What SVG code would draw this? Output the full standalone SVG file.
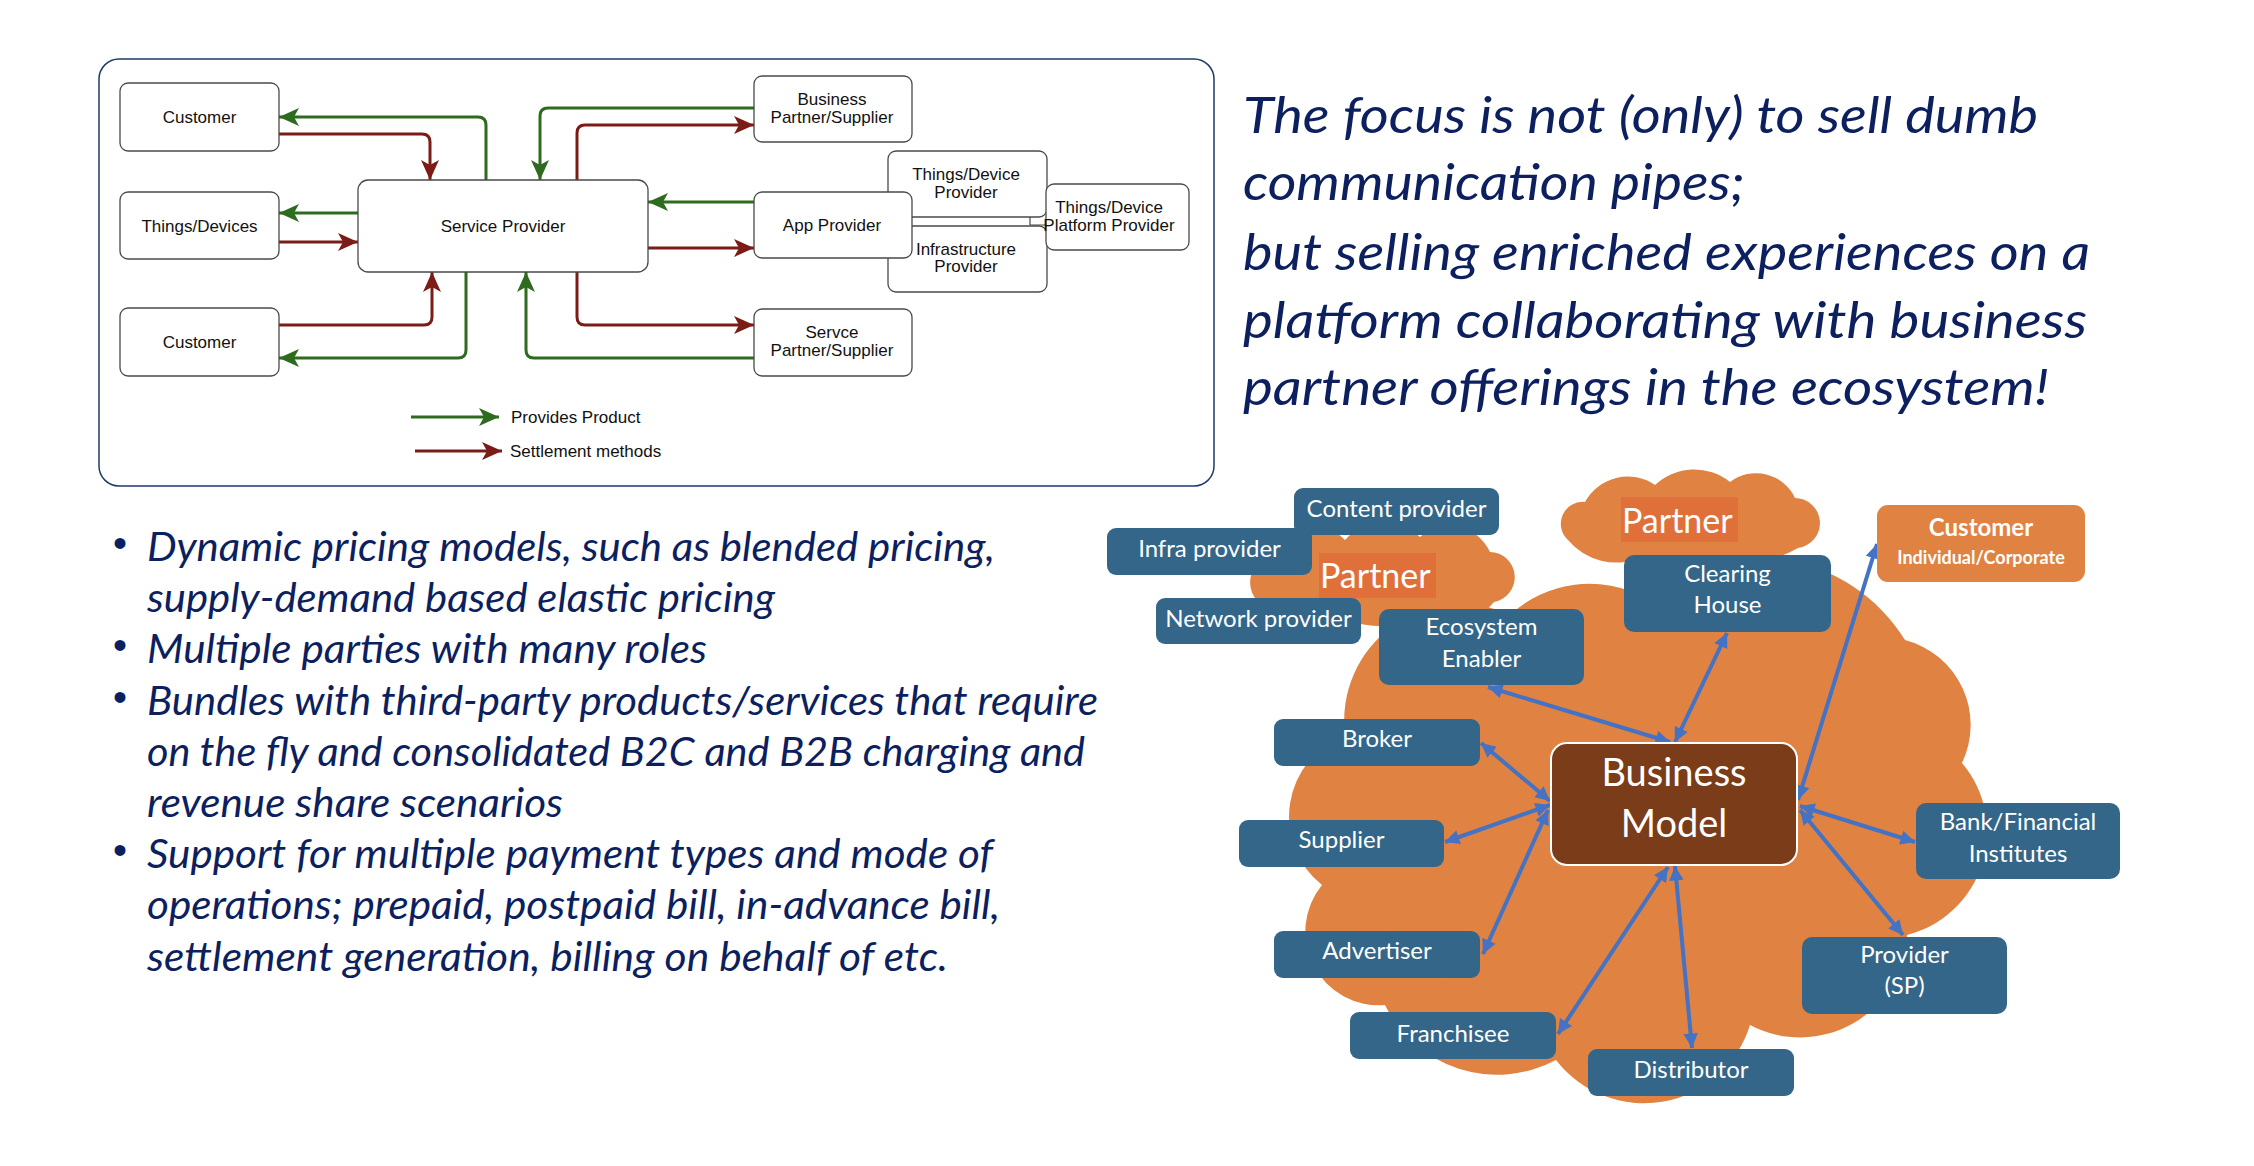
<svg xmlns="http://www.w3.org/2000/svg" width="2254" height="1166" viewBox="0 0 2254 1166">
  <style>
    .lbox { fill: #ffffff; stroke: #4a4a4a; stroke-width: 1.3; }
    .ltxt { font-family: "Liberation Sans", Arial, sans-serif; font-size: 17px; fill: #111111; text-anchor: middle; }
    .lleg { font-family: "Liberation Sans", Arial, sans-serif; font-size: 17px; fill: #111111; }
    .prod { fill: none; stroke: #2E6B1F; stroke-width: 3; marker-end: url(#headG); }
    .settle { fill: none; stroke: #7B1D16; stroke-width: 3; marker-end: url(#headR); }
    .navy { font-family: Lato, "Open Sans", sans-serif; font-style: italic; fill: #0C1F5E; }
    .big { font-size: 50px; }
    .bul { font-size: 40px; }
    .dot { font-family: "Liberation Sans", Arial, sans-serif; font-size: 40px; fill: #0C1F5E; text-anchor: middle; }
    .cloud { fill: #E08241; }
    .tag { fill: #DF7039; }
    .tagtxt { font-family: Lato, "Open Sans", sans-serif; font-size: 34px; fill: #ffffff; }
    .role { fill: #336689; }
    .rtxt { font-family: Lato, "Open Sans", sans-serif; font-size: 24px; fill: #ffffff; text-anchor: middle; }
    .link { fill: none; stroke: #4472C4; stroke-width: 4; marker-start: url(#headB); marker-end: url(#headB); }
  </style>
  <defs>
    <marker id="headG" viewBox="0 0 20 18" refX="20" refY="9" markerWidth="20" markerHeight="18" markerUnits="userSpaceOnUse" orient="auto">
      <path d="M0,0 L20,9 L0,18 L5,9 z" fill="#2E6B1F"/>
    </marker>
    <marker id="headR" viewBox="0 0 20 18" refX="20" refY="9" markerWidth="20" markerHeight="18" markerUnits="userSpaceOnUse" orient="auto">
      <path d="M0,0 L20,9 L0,18 L5,9 z" fill="#7B1D16"/>
    </marker>
    <marker id="headB" viewBox="0 0 10 10" refX="10" refY="5" markerWidth="4" markerHeight="3.6" markerUnits="strokeWidth" orient="auto-start-reverse">
      <path d="M0,0 L10,5 L0,10 z" fill="#4472C4"/>
    </marker>
  </defs>

  <rect width="2254" height="1166" fill="#ffffff"/>

  <!-- ===== Value-flow sketch (top left) ===== -->
  <rect id="frame" x="99" y="59" width="1115" height="427" rx="20" fill="#ffffff" stroke="#1F3A6B" stroke-width="1.5"/>

  <g id="flow-connectors">
    <!-- products -->
    <path class="prod" d="M486,180 V125 Q486,117 478,117 H279"/>
    <path class="prod" d="M358,213 H279"/>
    <path class="prod" d="M466,272 V350 Q466,358 458,358 H279"/>
    <path class="prod" d="M754,108 H548 Q540,108 540,116 V180"/>
    <path class="prod" d="M754,202 H648"/>
    <path class="prod" d="M754,358 H534 Q526,358 526,350 V272"/>
    <!-- settlements -->
    <path class="settle" d="M279,134 H422 Q430,134 430,142 V180"/>
    <path class="settle" d="M279,242 H358"/>
    <path class="settle" d="M279,325 H424 Q432,325 432,317 V272"/>
    <path class="settle" d="M577,180 V133 Q577,125 585,125 H754"/>
    <path class="settle" d="M648,248 H754"/>
    <path class="settle" d="M577,272 V317 Q577,325 585,325 H754"/>
  </g>

  <g id="customer-top">
    <rect class="lbox" x="120" y="83" width="159" height="68" rx="8"/>
    <text class="ltxt" x="199.5" y="123">Customer</text>
  </g>
  <g id="things-devices">
    <rect class="lbox" x="120" y="192" width="159" height="67" rx="8"/>
    <text class="ltxt" x="199.5" y="232">Things/Devices</text>
  </g>
  <g id="customer-bottom">
    <rect class="lbox" x="120" y="308" width="159" height="68" rx="8"/>
    <text class="ltxt" x="199.5" y="348">Customer</text>
  </g>
  <g id="service-provider">
    <rect class="lbox" x="358" y="180" width="290" height="92" rx="10"/>
    <text class="ltxt" x="503" y="232">Service Provider</text>
  </g>
  <g id="business-partner">
    <rect class="lbox" x="754" y="76" width="158" height="66" rx="8"/>
    <text class="ltxt" x="832" y="105">Business</text>
    <text class="ltxt" x="832" y="123">Partner/Supplier</text>
  </g>
  <g id="things-device-provider">
    <rect class="lbox" x="888" y="151" width="159" height="66" rx="8"/>
    <text class="ltxt" x="966" y="180">Things/Device</text>
    <text class="ltxt" x="966" y="198">Provider</text>
  </g>
  <g id="infrastructure-provider">
    <rect class="lbox" x="888" y="226" width="159" height="66" rx="8"/>
    <text class="ltxt" x="966" y="255">Infrastructure</text>
    <text class="ltxt" x="966" y="272">Provider</text>
  </g>
  <g id="platform-provider">
    <rect class="lbox" x="1046" y="184" width="143" height="66" rx="8"/>
    <path d="M1030,217 V225 H1046" fill="none" stroke="#4a4a4a" stroke-width="1.2"/>
    <text class="ltxt" x="1109" y="213">Things/Device</text>
    <text class="ltxt" x="1109" y="231">Platform Provider</text>
  </g>
  <g id="app-provider">
    <rect class="lbox" x="754" y="192" width="158" height="66" rx="8"/>
    <text class="ltxt" x="832" y="231">App Provider</text>
  </g>
  <g id="service-partner">
    <rect class="lbox" x="754" y="309" width="158" height="67" rx="8"/>
    <text class="ltxt" x="832" y="338">Servce</text>
    <text class="ltxt" x="832" y="356">Partner/Supplier</text>
  </g>

  <g id="legend">
    <path class="prod" d="M411,417 H499"/>
    <text class="lleg" x="511" y="423">Provides Product</text>
    <path class="settle" d="M415,451 H502"/>
    <text class="lleg" x="510" y="457">Settlement methods</text>
  </g>

  <!-- ===== Statement (top right) ===== -->
  <g id="statement" class="navy big">
    <text x="1243" y="133" textLength="795" lengthAdjust="spacingAndGlyphs">The focus is not (only) to sell dumb</text>
    <text x="1243" y="200" textLength="502" lengthAdjust="spacingAndGlyphs">communication pipes;</text>
    <text x="1243" y="270" textLength="847" lengthAdjust="spacingAndGlyphs">but selling enriched experiences on a</text>
    <text x="1243" y="338" textLength="844" lengthAdjust="spacingAndGlyphs">platform collaborating with business</text>
    <text x="1243" y="405" textLength="806" lengthAdjust="spacingAndGlyphs">partner offerings in the ecosystem!</text>
  </g>

  <!-- ===== Bullet list (bottom left) ===== -->
  <g id="bullets">
    <text class="dot" x="120" y="557">•</text>
    <text class="dot" x="120" y="659">•</text>
    <text class="dot" x="120" y="711">•</text>
    <text class="dot" x="120" y="864">•</text>
    <g class="navy bul">
      <text x="147" y="561" textLength="848" lengthAdjust="spacingAndGlyphs">Dynamic pricing models, such as blended pricing,</text>
      <text x="147" y="612" textLength="628" lengthAdjust="spacingAndGlyphs">supply-demand based elastic pricing</text>
      <text x="147" y="663" textLength="560" lengthAdjust="spacingAndGlyphs">Multiple parties with many roles</text>
      <text x="147" y="715" textLength="951" lengthAdjust="spacingAndGlyphs">Bundles with third-party products/services that require</text>
      <text x="147" y="766" textLength="938" lengthAdjust="spacingAndGlyphs">on the fly and consolidated B2C and B2B charging and</text>
      <text x="147" y="817" textLength="416" lengthAdjust="spacingAndGlyphs">revenue share scenarios</text>
      <text x="147" y="868" textLength="846" lengthAdjust="spacingAndGlyphs">Support for multiple payment types and mode of</text>
      <text x="147" y="919" textLength="853" lengthAdjust="spacingAndGlyphs">operations; prepaid, postpaid bill, in-advance bill,</text>
      <text x="147" y="971" textLength="801" lengthAdjust="spacingAndGlyphs">settlement generation, billing on behalf of etc.</text>
    </g>
  </g>

  <!-- ===== Ecosystem (bottom right) ===== -->
  <g id="ecosystem-cloud">
    <path class="cloud" d="M1345,735 A116.7,116.7 0 0 1 1510,615 A116,116 0 0 1 1645,598 A174.5,174.5 0 0 1 1905,640 A87.8,87.8 0 0 1 1962,763 A106.5,106.5 0 0 1 1907,935 A107,107 0 0 1 1750,1025 A111,111 0 0 1 1556,1060 A125,125 0 0 1 1385,1005 A73.6,73.6 0 0 1 1322,885 A87.5,87.5 0 0 1 1345,735 Z"/>
    <ellipse class="cloud" cx="1640" cy="830" rx="290" ry="210"/>
  </g>

  <g id="partner-cloud-left">
    <path class="cloud" d="M1262,605 A27.5,27.5 0 0 1 1275,555 A42,42 0 0 1 1345,540 A52,52 0 0 1 1420,537 A44.6,44.6 0 0 1 1490,552 A25.2,25.2 0 0 1 1494,602 A50.8,50.8 0 0 1 1430,616 A117,117 0 0 1 1345,620 A70.6,70.6 0 0 1 1262,605 Z"/>
    <rect class="tag" x="1319" y="553" width="117" height="45"/>
    <text class="tagtxt" x="1320" y="588">Partner</text>
  </g>

  <g id="partner-cloud-right">
    <path class="cloud" d="M1568,540 A21.9,21.9 0 0 1 1585,502 A48.5,48.5 0 0 1 1655,485 A57.2,57.2 0 0 1 1730,482 A43,43 0 0 1 1795,498 A25.1,25.1 0 0 1 1798,548 A100.5,100.5 0 0 1 1720,558 A104,104 0 0 1 1640,558 A63.3,63.3 0 0 1 1568,540 Z"/>
    <rect class="tag" x="1621" y="497" width="117" height="45"/>
    <text class="tagtxt" x="1622" y="533">Partner</text>
  </g>

  <g id="ecosystem-links">
    <path class="link" d="M1488,687 L1670,742"/>
    <path class="link" d="M1727,633 L1675,742"/>
    <path class="link" d="M1481,743 L1550,801"/>
    <path class="link" d="M1445,842 L1550,805"/>
    <path class="link" d="M1483,954 L1548,810"/>
    <path class="link" d="M1558,1034 L1668,867"/>
    <path class="link" d="M1692,1048 L1675,866"/>
    <path class="link" d="M1903,935 L1800,810"/>
    <path class="link" d="M1915,842 L1800,806"/>
    <path class="link" d="M1877,544 L1798,800"/>
  </g>

  <g id="infra-provider">
    <rect class="role" x="1107" y="528" width="205" height="47" rx="9"/>
    <text class="rtxt" x="1209.5" y="557">Infra provider</text>
  </g>
  <g id="content-provider">
    <rect class="role" x="1294" y="488" width="205" height="47" rx="9"/>
    <text class="rtxt" x="1396.5" y="517">Content provider</text>
  </g>
  <g id="network-provider">
    <rect class="role" x="1156" y="598" width="205" height="46" rx="9"/>
    <text class="rtxt" x="1258.5" y="627">Network provider</text>
  </g>
  <g id="ecosystem-enabler">
    <rect class="role" x="1379" y="609" width="205" height="76" rx="10"/>
    <text class="rtxt" x="1481.5" y="635">Ecosystem</text>
    <text class="rtxt" x="1481.5" y="667">Enabler</text>
  </g>
  <g id="clearing-house">
    <rect class="role" x="1624" y="555" width="207" height="77" rx="10"/>
    <text class="rtxt" x="1727.5" y="582">Clearing</text>
    <text class="rtxt" x="1727.5" y="613">House</text>
  </g>
  <g id="customer-segment">
    <rect x="1877" y="505" width="208" height="77" rx="11" fill="#E08241"/>
    <text x="1981" y="536" font-family="Lato, 'Open Sans', sans-serif" font-size="24" font-weight="bold" fill="#ffffff" text-anchor="middle">Customer</text>
    <text x="1981" y="564" font-family="Lato, 'Open Sans', sans-serif" font-size="18" font-weight="bold" fill="#ffffff" text-anchor="middle">Individual/Corporate</text>
  </g>
  <g id="broker">
    <rect class="role" x="1274" y="719" width="206" height="47" rx="9"/>
    <text class="rtxt" x="1377" y="747">Broker</text>
  </g>
  <g id="supplier">
    <rect class="role" x="1239" y="820" width="205" height="47" rx="9"/>
    <text class="rtxt" x="1341.5" y="848">Supplier</text>
  </g>
  <g id="advertiser">
    <rect class="role" x="1274" y="931" width="206" height="47" rx="9"/>
    <text class="rtxt" x="1377" y="959">Advertiser</text>
  </g>
  <g id="franchisee">
    <rect class="role" x="1350" y="1012" width="206" height="47" rx="9"/>
    <text class="rtxt" x="1453" y="1042">Franchisee</text>
  </g>
  <g id="distributor">
    <rect class="role" x="1588" y="1049" width="206" height="47" rx="9"/>
    <text class="rtxt" x="1691" y="1078">Distributor</text>
  </g>
  <g id="provider-sp">
    <rect class="role" x="1802" y="937" width="205" height="77" rx="10"/>
    <text class="rtxt" x="1904.5" y="963">Provider</text>
    <text class="rtxt" x="1904.5" y="994">(SP)</text>
  </g>
  <g id="bank-financial">
    <rect class="role" x="1916" y="803" width="204" height="76" rx="10"/>
    <text class="rtxt" x="2018" y="830">Bank/Financial</text>
    <text class="rtxt" x="2018" y="862">Institutes</text>
  </g>
  <g id="business-model">
    <rect x="1551" y="743" width="246" height="122" rx="16" fill="#7A3C19" stroke="#ffffff" stroke-width="2"/>
    <text x="1674" y="786" font-family="Lato, 'Open Sans', sans-serif" font-size="38" fill="#ffffff" text-anchor="middle">Business</text>
    <text x="1674" y="837" font-family="Lato, 'Open Sans', sans-serif" font-size="38" fill="#ffffff" text-anchor="middle">Model</text>
  </g>
</svg>
